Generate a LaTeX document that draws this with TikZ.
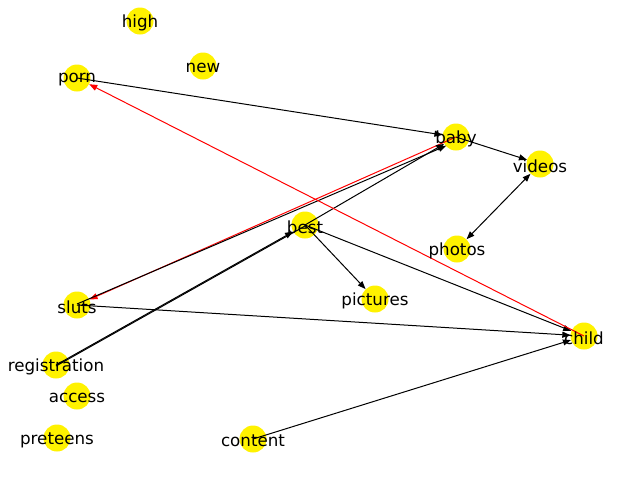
\documentclass[tikz,border=0pt]{standalone}
\usepackage{fontspec}
\setmainfont{DejaVu Sans}
\usetikzlibrary{arrows.meta}
\begin{document}
\begin{tikzpicture}[x=1pt,y=-1pt,
  dot/.style={circle,fill=yellow,draw=none,minimum size=27pt,inner sep=0pt},
  lbl/.style={inner sep=0pt,font=\fontsize{16.7}{20}\selectfont,yshift=-2pt},
  edge/.style={draw=black,line width=1pt,-{Stealth[length=8pt,width=6pt,inset=0pt]}},
  redge/.style={edge,draw=red,-{Stealth[length=8pt,width=6pt,inset=0pt,red]}},
  bothedge/.style={draw=black,line width=1pt,{Stealth[length=8pt,width=6pt,inset=0pt]}-{Stealth[length=8pt,width=6pt,inset=0pt]}}]
\useasboundingbox (0,0) rectangle (640,480);
% vertices
\node[dot] (high) at (140,21) {};
\node[dot] (new) at (203,66) {};
\node[dot] (porn) at (77,78) {};
\node[dot] (baby) at (456,137) {};
\node[dot] (videos) at (540,164) {};
\node[dot] (best) at (305,225) {};
\node[dot] (photos) at (457,249) {};
\node[dot] (sluts) at (77,305) {};
\node[dot] (pictures) at (375,299) {};
\node[dot] (child) at (584,336) {};
\node[dot] (registration) at (56,365) {};
\node[dot] (access) at (77,396) {};
\node[dot] (preteens) at (57,438) {};
\node[dot] (content) at (253,439) {};
% directed edges
\draw[edge] (porn.center) -- (baby);
\draw[edge] (baby.center) -- (videos);
\draw[redge] (baby.center) -- (sluts);
\draw[edge] ([yshift=1pt]sluts.center) -- ([yshift=1pt]baby.south west);
\draw[edge] (best.center) -- (baby);
\draw[edge] (registration.center) -- (best);
\draw[draw=black,line width=1pt] ([yshift=-1pt]registration.center) -- ([yshift=-1pt]best.center);
\draw[edge] (best.center) -- (pictures);
\draw[edge] (best.center) -- (child);
\draw[edge] (sluts.center) -- (child);
\draw[edge] (content.center) -- (child);
\draw[bothedge] (photos) -- (videos);
\draw[redge] (child.center) -- (porn);
% labels
\foreach \n in {high,new,porn,baby,videos,best,photos,sluts,pictures,child,registration,access,preteens,content}
  \node[lbl] at (\n) {\n};
\end{tikzpicture}
\end{document}
